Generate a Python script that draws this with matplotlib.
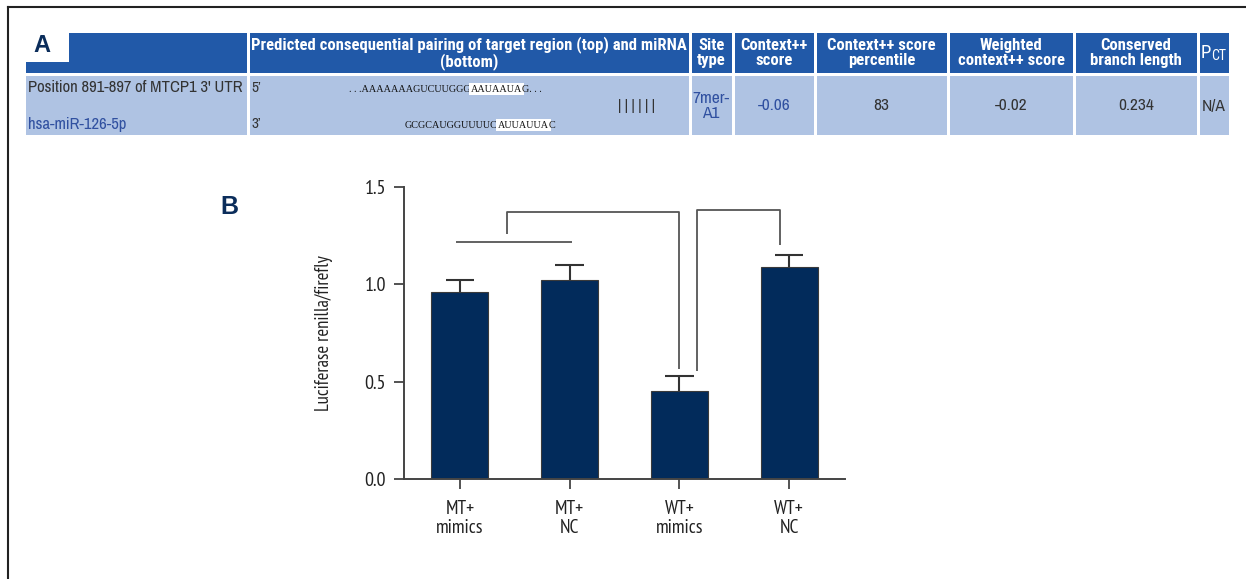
import numpy as np
import matplotlib.pyplot as plt
from matplotlib.patches import Rectangle

plt.rcParams['font.family'] = ['PT Sans Narrow', 'DejaVu Sans']
narrow = ['Archivo Narrow', 'Roboto Condensed', 'DejaVu Sans']
narrow_bold = ['Roboto Condensed', 'DejaVu Sans']
serif = ['Liberation Serif', 'DejaVu Serif']
bold_sans = ['Liberation Sans', 'DejaVu Sans']

# panel A: TargetScan row
header_labels = ['Predicted consequential pairing of target region (top) and miRNA\n(bottom)',
                 'Site\ntype', 'Context++\nscore', 'Context++ score\npercentile',
                 'Weighted\ncontext++ score', 'Conserved\nbranch length']
site_name = "Position 891-897 of MTCP1 3' UTR"
mirna_name = 'hsa-miR-126-5p'
target_seq = ['. . .AAAAAAAGUCUUGGG', 'AAUAAUA', 'G. . .']
mirna_seq = ['GCGCAUGGUUUUC', 'AUUAUUA', 'C']
site_type = '7mer-\nA1'
row_values = ['-0.06', '83', '-0.02', '0.234', 'N/A']

# panel B: luciferase assay
groups = ['MT+\nmimics', 'MT+\nNC', 'WT+\nmimics', 'WT+\nNC']
ratio_mean = np.array([0.96, 1.02, 0.45, 1.09])
ratio_sd = np.array([0.06, 0.08, 0.08, 0.06])
# comparison lines (x in bar index, y in ratio units)
pair_x = [-0.04, 1.02]
pair_y = [1.22, 1.22]
bracket1_x = [0.43, 0.43, 2.0, 2.0]
bracket1_y = [1.26, 1.37, 1.37, 0.565]
bracket2_x = [2.16, 2.16, 2.92, 2.92]
bracket2_y = [0.556, 1.38, 1.38, 1.20]

W, H = 1246, 579
fig = plt.figure(figsize=(W / 100, H / 100), dpi=100)

# overlay in pixel coords for the table and frame
ax0 = fig.add_axes([0, 0, 1, 1])
ax0.set_xlim(0, W)
ax0.set_ylim(H, 0)
ax0.axis('off')

ax0.plot([8, 8], [7, H], color='#222222', lw=1.5)
ax0.plot([8, W], [7, 7], color='#222222', lw=1.5)

head_blue = '#2159A8'
row_blue = '#AFC3E3'
dark = '#333333'
link_blue = '#3050A0'
col_edges = [26, 248, 690, 733, 815, 948, 1074, 1198, 1230]
for i in range(len(col_edges) - 1):
    x0 = col_edges[i] + (1.5 if i > 0 else 0)
    x1 = col_edges[i + 1] - 1.5
    ax0.add_patch(Rectangle((x0, 33), x1 - x0, 40, fc=head_blue, ec='none'))
    ax0.add_patch(Rectangle((x0, 76), x1 - x0, 59, fc=row_blue, ec='none'))

# "A" label box
ax0.add_patch(Rectangle((26, 33), 43, 29, fc='white', ec='none'))
ax0.text(42, 46, 'A', fontsize=17, fontweight='bold', color='#0B2D5B',
         ha='center', va='center', family=bold_sans)

for i, lab in enumerate(header_labels):
    cx = (col_edges[i + 1] + col_edges[i + 2]) / 2
    ax0.text(cx, 53, lab, color='white', fontsize=12, fontweight='bold',
             ha='center', va='center', linespacing=1.0, family=narrow_bold)
ax0.text(1201, 53, 'P', color='white', fontsize=13.5, ha='left', va='center',
         family=narrow_bold)
ax0.text(1211, 56, 'CT', color='white', fontsize=10, ha='left', va='center',
         family=narrow_bold)

# row
ax0.text(28, 88, site_name, color=dark, fontsize=12, ha='left', va='center', family=narrow)
ax0.text(28, 124, mirna_name, color=link_blue, fontsize=12, ha='left', va='center',
         family=narrow)
ax0.text(251, 88, '5\u2019', color=dark, fontsize=11, ha='left', va='center', family=narrow)
ax0.text(251, 124, '3\u2019', color=dark, fontsize=11, ha='left', va='center', family=narrow)


def seq_line(x, y, parts):
    t = ax0.text(x, y, parts[0], fontsize=7.3, family=serif,
                 color='#111111', ha='left', va='center')
    for j, p in enumerate(parts[1:]):
        bb = dict(boxstyle='square,pad=0.15', fc='white', ec='none') if j == 0 else None
        t = ax0.annotate(p, xy=(1, 0), xycoords=t, ha='left', va='bottom',
                         fontsize=7.3, family=serif, color='#111111', bbox=bb)


seq_line(349, 89, target_seq)
seq_line(405, 125, mirna_seq)
ax0.text(636, 106, '| | | | | |', color=dark, fontsize=11, ha='center', va='center',
         family=narrow)

ax0.text(711, 106, site_type, color=link_blue, fontsize=12.5, ha='center', va='center',
         linespacing=1.0, family=narrow)
for i, v in enumerate(row_values):
    cx = (col_edges[i + 3] + col_edges[i + 4]) / 2
    ax0.text(cx, 106, v, color=link_blue if i == 0 else dark, fontsize=12.5,
             ha='center', va='center', family=narrow)

# panel B
ax0.text(229, 207, 'B', fontsize=18, fontweight='bold', color='#0B2D5B',
         ha='center', va='center', family=bold_sans)

ax = fig.add_axes([404 / W, 100 / H, (845 - 404) / W, (479 - 187) / H])
ax.patch.set_visible(False)
x = np.arange(len(groups))
ax.bar(x, ratio_mean, width=0.52, color='#022B5B', edgecolor='#3a3a3a', linewidth=0.8,
       zorder=2)
# upper error bars only
ax.vlines(x, ratio_mean, ratio_mean + ratio_sd, color='#333333', lw=1.5, zorder=3)
ax.hlines(ratio_mean + ratio_sd, x - 0.13, x + 0.13, color='#333333', lw=1.5, zorder=3)

line_kw = dict(color='#555555', lw=1.3, solid_capstyle='butt')
ax.plot(pair_x, pair_y, **line_kw)
ax.plot(bracket1_x, bracket1_y, **line_kw)
ax.plot(bracket2_x, bracket2_y, **line_kw)

ax.set_xlim(-0.51, 3.51)
ax.set_ylim(0, 1.5)
ax.set_yticks([0, 0.5, 1.0, 1.5])
ax.set_yticklabels(['0.0', '0.5', '1.0', '1.5'])
ax.set_xticks(x)
ax.set_xticklabels(groups, linespacing=1.05)
for s in ['top', 'right']:
    ax.spines[s].set_visible(False)
for s in ['left', 'bottom']:
    ax.spines[s].set_color('#444444')
    ax.spines[s].set_linewidth(1.4)
ax.tick_params(axis='both', direction='out', length=7, width=1.3, colors='#444444',
               labelcolor='#222222')
ax.tick_params(axis='y', labelsize=14.5, pad=6)
ax.tick_params(axis='x', labelsize=14, pad=8)
ax.set_ylabel('Luciferase renilla/firefly', fontsize=13.5, color='#222222')
ax.yaxis.set_label_coords(-0.161, 0.5)

fig.savefig('out.png', dpi=100)
